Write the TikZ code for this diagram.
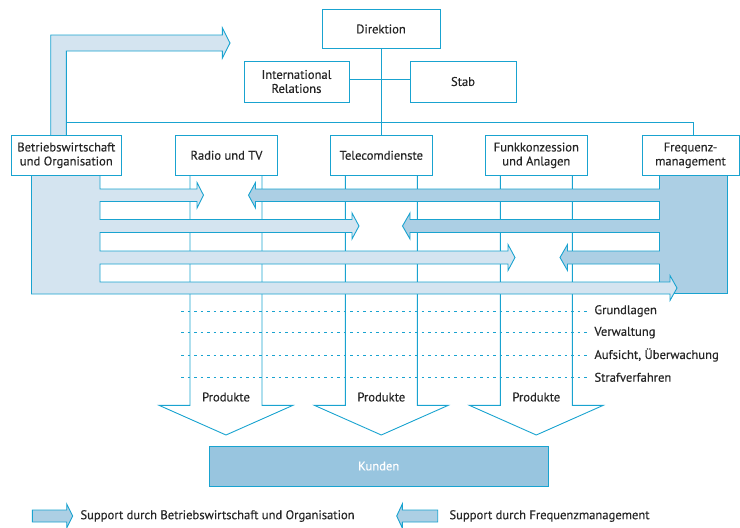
\documentclass[tikz,border=0pt]{standalone}
\usepackage{fontspec}
\setmainfont{PT Sans}[FakeBold=0.3]
\usetikzlibrary{calc}
\definecolor{orgline}{RGB}{25,163,208}
\definecolor{bwoblue}{RGB}{212,228,240}
\definecolor{freqblue}{RGB}{172,207,228}
\definecolor{kundenblue}{RGB}{152,197,223}
\definecolor{orgtext}{RGB}{38,38,38}

\begin{document}
\begin{tikzpicture}[x=1pt,y=-1pt,line width=0.9pt,line join=miter,
	every node/.style={font=\fontsize{12.6}{14}\selectfont,text=orgtext},
	box/.style={draw=orgline,fill=white,align=center,inner sep=0pt,minimum height=39.5pt},
	bwoshape/.style={draw=orgline,fill=bwoblue},
	freqshape/.style={draw=orgline,fill=freqblue},
	shaft/.style={draw=orgline},
	level/.style={draw=orgline,dash pattern=on 2.5pt off 4pt,line width=0.8pt}]
		\useasboundingbox (0,0) rectangle (740,528);

		% Produkte
		\foreach \c/\n in {226/prodr,381.3/prodt,536.3/prodf}{
			\draw[shaft] ({\c-36},175) -- ({\c-36},405.3) -- ({\c-67},405.3) -- (\c,435) -- ({\c+67},405.3) -- ({\c+36},405.3) -- ({\c+36},175);
			\node (\n) at (\c,397) {Produkte};
		}

		% Stufen
		\foreach \y/\n/\t in {311/grund/Grundlagen,332.7/verw/Verwaltung,355/aufs/{Aufsicht, Überwachung},377.3/straf/Strafverfahren}{
			\node[anchor=west,inner sep=0pt] (\n) at (594,\y) {\t};
			\draw[level] (181,\y) -- ([xshift=-7pt]\n.west);
		}

		% Support Frequenzmanagement
		\draw[freqshape] (727.5,175) -- (727.5,293.5) -- (659.5,293.5) -- (659.5,264) -- (567.5,264) -- (567.5,270.5) -- (560,257.5) -- (567.5,244.5) -- (567.5,251) -- (659.5,251) -- (659.5,232.5) -- (410,232.5) -- (410,239) -- (402.5,226) -- (410,213) -- (410,219.5) -- (659.5,219.5) -- (659.5,201.5) -- (255.5,201.5) -- (255.5,208) -- (248.5,195.2) -- (255.5,182.5) -- (255.5,189) -- (659.5,189) -- (659.5,175) -- cycle;

		% Support Betriebswirtschaft
		\draw[bwoshape] (31.5,175) -- (31.5,294) -- (670,294) -- (670,300.5) -- (677,288) -- (670,275.5) -- (670,282) -- (100,282) -- (100,264) -- (508,264) -- (508,270.5) -- (515,257.5) -- (508,244.5) -- (508,251) -- (100,251) -- (100,232.5) -- (352,232.5) -- (352,239) -- (359,226) -- (352,213) -- (352,219.5) -- (100,219.5) -- (100,201.5) -- (197,201.5) -- (197,208) -- (203.5,195.2) -- (197,182.5) -- (197,189) -- (100,189) -- (100,175) -- cycle;
		\draw[bwoshape] (50.7,136) -- (50.7,35) -- (222.3,35) -- (222.3,27.7) -- (230,43) -- (222.3,58.3) -- (222.3,51) -- (66.3,51) -- (66.3,136) -- cycle;

		% Organigramm
		\node[box,minimum width=118pt] (dir) at (381,29) {Direktion};
		\node[box,minimum width=105pt,minimum height=41pt] (ir) at (296.5,81.5) {International\\Relations};
		\node[box,minimum width=106pt,minimum height=41pt] (stab) at (463,81.5) {Stab};
		\node[box,minimum width=110pt] (bwo) at (66.3,155.3) {Betriebswirtschaft\\und Organisation};
		\node[box,minimum width=101.6pt] (radio) at (226.5,155.3) {Radio und TV};
		\node[box,minimum width=102pt] (tele) at (381.3,155.3) {Telecomdienste};
		\node[box,minimum width=102pt] (funk) at (536.3,155.3) {Funkkonzession\\und Anlagen};
		\node[box,minimum width=97pt] (freq) at (690.5,155.3) {Frequenz-\\management};

		\coordinate (bus) at (66.3,122);
		\draw[orgline] (dir.south) -- (dir.south |- tele.north);
		\draw[orgline] ([yshift=2pt]ir.east) -- ([yshift=2pt]stab.west);
		\draw[orgline] (bus) -| ([xshift=3pt]freq.north);

		\node[box,fill=kundenblue,minimum width=339pt,minimum height=40pt,text=white] (kunden) at (378.7,466) {Kunden};

		% Legende
		\draw[freqshape] (32.3,510) -- (66.7,510) -- (66.7,504) -- (72.7,516) -- (66.7,528) -- (66.7,522) -- (32.3,522) -- cycle;
		\node[anchor=west,inner sep=0pt] (legbwo) at (80,516) {Support durch Betriebswirtschaft und Organisation};
		\draw[freqshape] (437.7,510) -- (402.3,510) -- (402.3,504) -- (396.7,516) -- (402.3,528) -- (402.3,522) -- (437.7,522) -- cycle;
		\node[anchor=west,inner sep=0pt] (legfreq) at (449,516) {Support durch Frequenzmanagement};
\end{tikzpicture}
\end{document}
